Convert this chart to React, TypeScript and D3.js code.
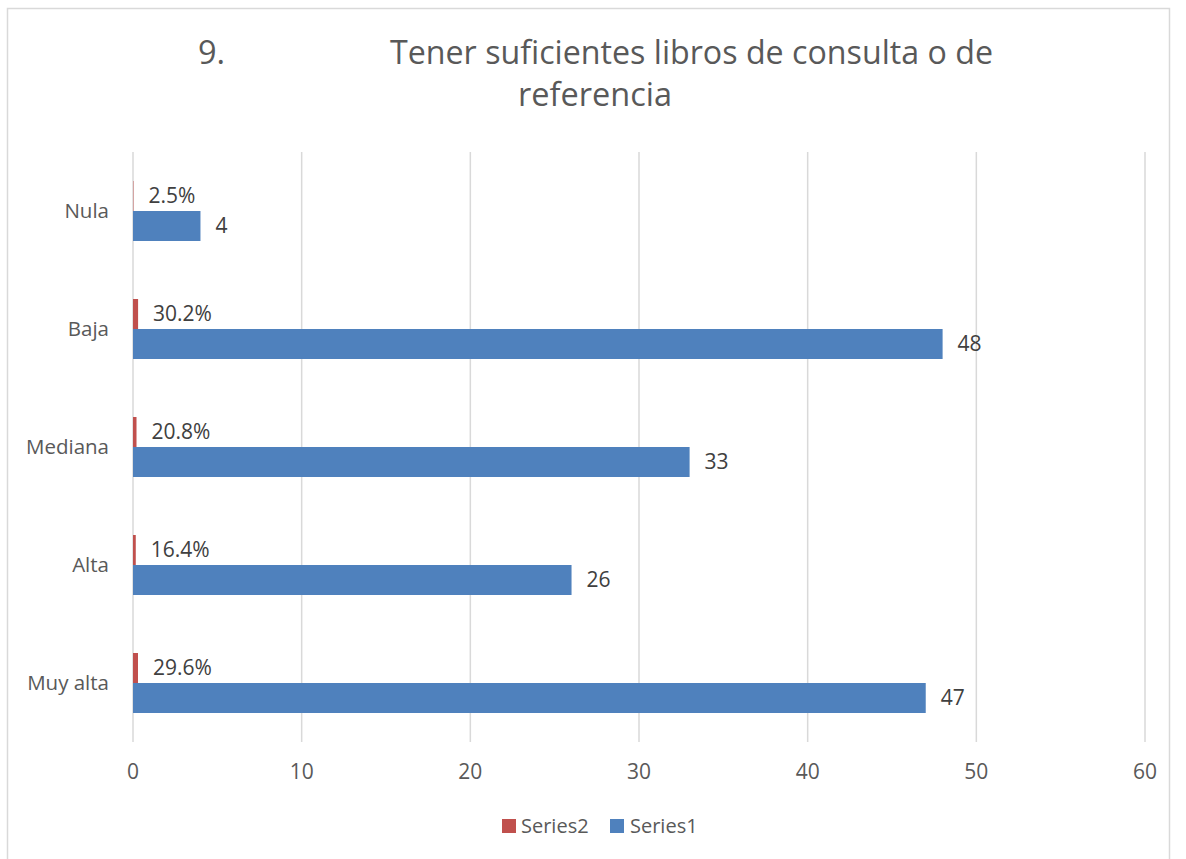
import React from "react";
import * as d3 from "d3";

const categories = ["Nula", "Baja", "Mediana", "Alta", "Muy alta"];
const series1 = [4, 48, 33, 26, 47];
const series2 = [0.025, 0.302, 0.208, 0.164, 0.296];
const xTicks = [0, 10, 20, 30, 40, 50, 60];
const seriesNames = ["Series2", "Series1"];
const titleNum = "9.";
const titleLine1 = "Tener suficientes libros de consulta o de";
const titleLine2 = "referencia";

const W = 1186;
const H = 859;
const FONT = "'Open Sans', sans-serif";
const BLUE = "#4f81bd";
const RED = "#c0504d";
const GRID = "#d9d9d9";
const TXT = "#595959";
const LBL = "#404040";

export default function App() {
  const plot = { left: 133, right: 1145, top: 152, bottom: 742 };
  const x = d3.scaleLinear().domain([0, 60]).range([plot.left, plot.right]);
  const y = d3.scaleBand<string>().domain(categories).range([plot.top, plot.bottom]);
  const inner = d3.scaleBand<string>().domain(["s2", "s1"]).range([-30, 30]);
  const fmtPct = d3.format(".1%");

  return (
    <svg
      width={W}
      height={H}
      style={{ position: "absolute", left: 0, top: 0, background: "#fff" }}
      fontFamily={FONT}
    >
      <rect x={0} y={0} width={W} height={H} fill="#fff" />
      <rect x={7.5} y={8.5} width={1162} height={860} fill="#fff" stroke="#d9d9d9" strokeWidth={1.5} />

      {/* title */}
      <text x={198} y={64} fontSize={32.5} fill={TXT}>{titleNum}</text>
      <text x={390} y={64} fontSize={32.5} fill={TXT} textLength={603} lengthAdjust="spacingAndGlyphs">{titleLine1}</text>
      <text x={595} y={106} fontSize={32.5} fill={TXT} textAnchor="middle">{titleLine2}</text>

      {/* gridlines */}
      {xTicks.map((t) => (
        <line key={t} x1={x(t)} x2={x(t)} y1={plot.top} y2={plot.bottom} stroke={GRID} strokeWidth={1.5} />
      ))}

      {/* bars */}
      {categories.map((c, i) => {
        const cy = (y(c) as number) + y.bandwidth() / 2;
        const y2 = cy + (inner("s2") as number);
        const y1 = cy + (inner("s1") as number);
        const bh = inner.bandwidth();
        return (
          <g key={c}>
            <rect x={x(0)} y={y2} width={x(series2[i]) - x(0)} height={bh} fill={RED} />
            <rect x={x(0)} y={y1} width={x(series1[i]) - x(0)} height={bh} fill={BLUE} />
            <text x={x(series2[i]) + 15} y={y2 + bh / 2} dy="0.35em" fontSize={21} fill={LBL}>
              {fmtPct(series2[i])}
            </text>
            <text x={x(series1[i]) + 15} y={y1 + bh / 2} dy="0.35em" fontSize={21} fill={LBL}>
              {series1[i]}
            </text>
            <text x={109} y={cy} dy="0.35em" fontSize={20.5} fill={TXT} textAnchor="end">{c}</text>
          </g>
        );
      })}

      {/* x tick labels */}
      {xTicks.map((t) => (
        <text key={t} x={x(t)} y={779} fontSize={21} fill={TXT} textAnchor="middle">{t}</text>
      ))}

      {/* legend */}
      <rect x={502} y={819} width={14} height={14} fill={RED} />
      <text x={521} y={833} fontSize={20} fill={TXT}>{seriesNames[0]}</text>
      <rect x={610} y={819} width={14} height={14} fill={BLUE} />
      <text x={630} y={833} fontSize={20} fill={TXT}>{seriesNames[1]}</text>
    </svg>
  );
}
